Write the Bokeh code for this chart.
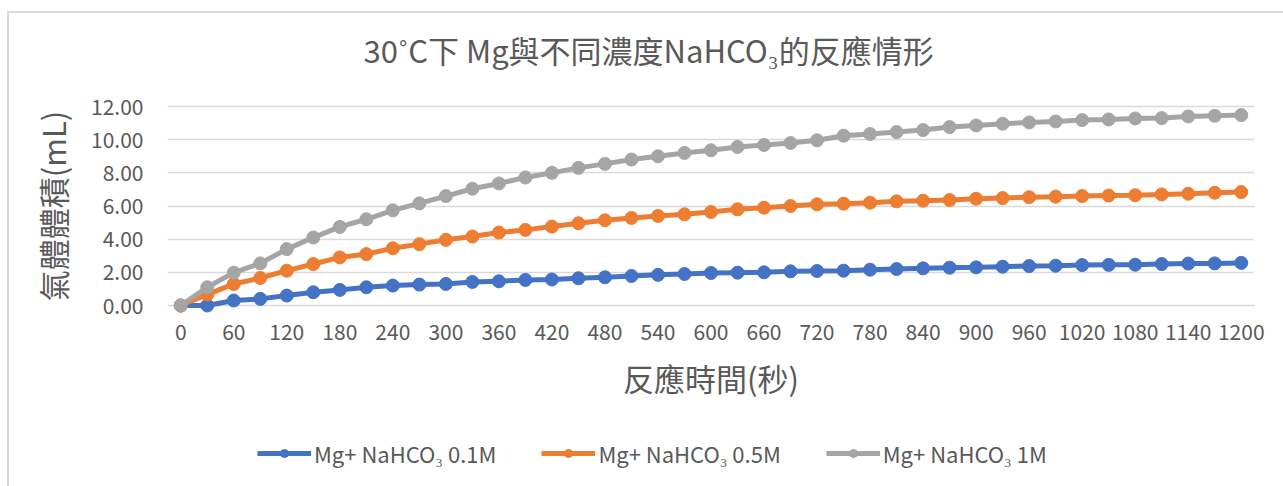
from bokeh.plotting import figure
from bokeh.layouts import column
from bokeh.models import (Range1d, FixedTicker, NumeralTickFormatter, Title,
                          Legend, LegendItem)
from bokeh.embed import file_html
from bokeh.resources import INLINE

# ---- data ----
times = [0, 30, 60, 90, 120, 150, 180, 210, 240, 270, 300, 330, 360, 390, 420,
         450, 480, 510, 540, 570, 600, 630, 660, 690, 720, 750, 780, 810, 840,
         870, 900, 930, 960, 990, 1020, 1050, 1080, 1110, 1140, 1170, 1200]
vol_01M = [0.00, 0.00, 0.30, 0.40, 0.60, 0.80, 0.94, 1.10, 1.20, 1.26, 1.30,
           1.42, 1.46, 1.54, 1.57, 1.64, 1.70, 1.78, 1.85, 1.90, 1.96, 1.98,
           2.00, 2.06, 2.08, 2.10, 2.16, 2.20, 2.24, 2.28, 2.30, 2.34, 2.38,
           2.40, 2.44, 2.45, 2.46, 2.50, 2.53, 2.54, 2.57]
vol_05M = [0.00, 0.66, 1.30, 1.66, 2.10, 2.50, 2.90, 3.10, 3.45, 3.70, 3.96,
           4.16, 4.40, 4.56, 4.76, 4.96, 5.14, 5.28, 5.40, 5.50, 5.64, 5.80,
           5.90, 6.00, 6.10, 6.14, 6.20, 6.28, 6.32, 6.36, 6.44, 6.48, 6.53,
           6.56, 6.60, 6.63, 6.65, 6.70, 6.74, 6.80, 6.84]
vol_1M = [0.00, 1.10, 1.98, 2.54, 3.40, 4.10, 4.74, 5.20, 5.74, 6.16, 6.60,
          7.04, 7.36, 7.72, 8.00, 8.30, 8.54, 8.80, 9.00, 9.20, 9.36, 9.56,
          9.68, 9.80, 9.96, 10.24, 10.34, 10.46, 10.58, 10.76, 10.86, 10.96,
          11.04, 11.10, 11.18, 11.22, 11.28, 11.30, 11.40, 11.44, 11.48]
series_names = ["Mg+ NaHCO\u2083 0.1M", "Mg+ NaHCO\u2083 0.5M", "Mg+ NaHCO\u2083 1M"]
series_colors = ["#4472C4", "#ED7D31", "#A5A5A5"]
x_ticks = [0, 60, 120, 180, 240, 300, 360, 420, 480, 540, 600, 660, 720, 780,
           840, 900, 960, 1020, 1080, 1140, 1200]
y_ticks = [0, 2, 4, 6, 8, 10, 12]
title_text = "30\u02daC下  Mg與不同濃度NaHCO\u2083的反應情形"
x_title = "反應時間(秒)"
y_title = "氣體體積(mL)"

# ---- layout ----
W, H = 1283, 486
MAIN_H = 430                       # main chart height, legend strip below
LEG_H = H - MAIN_H
FL, FR, FT, FB = 167, 1254, 98, 313
X0, X1 = -15, 1215
Y_PER = (305 - 106) / 12.0
Y0 = -(FB - 305) / Y_PER
Y1 = 12 + (106 - FT) / Y_PER
FONT = "Noto Sans CJK TC"
TXT = "#595959"
BORDER = "#D9D9D9"
LINE_W = 5
MARK_SZ = 13

p = figure(width=W, height=MAIN_H, output_backend="svg", toolbar_location=None,
           x_range=Range1d(X0, X1), y_range=Range1d(Y0, Y1),
           frame_width=FR - FL, frame_height=FB - FT,
           min_border_left=FL, min_border_right=W - FR,
           min_border_top=FT, min_border_bottom=MAIN_H - FB)
p.outline_line_color = None
p.background_fill_color = "white"
p.border_fill_color = None
# chart-area outline (left and top edges visible in the reference)
p.styles = {
    "background": (f"linear-gradient({BORDER},{BORDER}) 7px 11px / 2px 100% no-repeat, "
                   f"linear-gradient({BORDER},{BORDER}) 7px 11px / 100% 2px no-repeat, "
                   "white")
}

p.xgrid.visible = False
p.ygrid.ticker = FixedTicker(ticks=y_ticks)
p.ygrid.grid_line_color = BORDER
p.ygrid.grid_line_width = 1.3

for ax in (p.xaxis[0], p.yaxis[0]):
    ax.axis_line_color = None
    ax.major_tick_line_color = None
    ax.minor_tick_line_color = None
    ax.major_tick_out = 0
    ax.minor_tick_out = 0
    ax.major_label_text_color = TXT
    ax.major_label_text_font = FONT
    ax.major_label_text_font_size = "21px"
    ax.axis_label_text_color = TXT
    ax.axis_label_text_font = FONT
    ax.axis_label_text_font_size = "31px"
    ax.axis_label_text_font_style = "normal"

p.xaxis.ticker = FixedTicker(ticks=x_ticks)
p.xaxis.major_label_standoff = 10
p.xaxis.axis_label = x_title
p.xaxis.axis_label_standoff = 12

p.yaxis.ticker = FixedTicker(ticks=y_ticks)
p.yaxis.formatter = NumeralTickFormatter(format="0.00")
p.yaxis.major_label_standoff = 24
p.yaxis.axis_label = y_title
p.yaxis.axis_label_standoff = 13

series = [vol_01M, vol_05M, vol_1M]
for vals, col in zip(series, series_colors):
    p.line(times, vals, line_color=col, line_width=LINE_W)
    p.scatter(times, vals, marker="circle", size=MARK_SZ, fill_color=col,
              line_color=col)

p.add_layout(Title(text=title_text, align="left", offset=363 - FL,
                   text_font=FONT, text_font_size="31px",
                   text_font_style="normal", text_color=TXT,
                   vertical_align="top", standoff=50), "above")

# ---- legend strip (below the chart, inside the same chart area) ----
# same series drawn out of view so the legend shows their line + marker style
lg = figure(width=W, height=LEG_H, output_backend="svg", toolbar_location=None,
            x_range=Range1d(-2, -1), y_range=Range1d(-2, -1),
            x_axis_location=None, y_axis_location=None,
            min_border=0)
lg.outline_line_color = None
lg.background_fill_color = None
lg.border_fill_color = None
lg.xgrid.visible = False
lg.ygrid.visible = False
lg.styles = {
    "background": (f"linear-gradient({BORDER},{BORDER}) 7px 0px / 2px 100% no-repeat, "
                   "white")
}
items = []
for vals, name, col in zip(series, series_names, series_colors):
    r1 = lg.line(times, vals, line_color=col, line_width=LINE_W)
    r2 = lg.scatter(times, vals, marker="circle", size=MARK_SZ, fill_color=col,
                    line_color=col)
    items.append(LegendItem(label=name, renderers=[r1, r2]))

legend = Legend(items=items, orientation="horizontal", location=(257 - FL, 17))
legend.border_line_color = None
legend.background_fill_alpha = 0
legend.padding = 0
legend.margin = 0
legend.spacing = 45
legend.label_standoff = 3
legend.glyph_width = 54
legend.glyph_height = 20
legend.label_height = 20
legend.label_text_font = FONT
legend.label_text_font_size = "22px"
legend.label_text_color = TXT
lg.add_layout(legend)

page = column(p, lg, spacing=0)
open("out.html", "w").write(file_html(page, INLINE))
